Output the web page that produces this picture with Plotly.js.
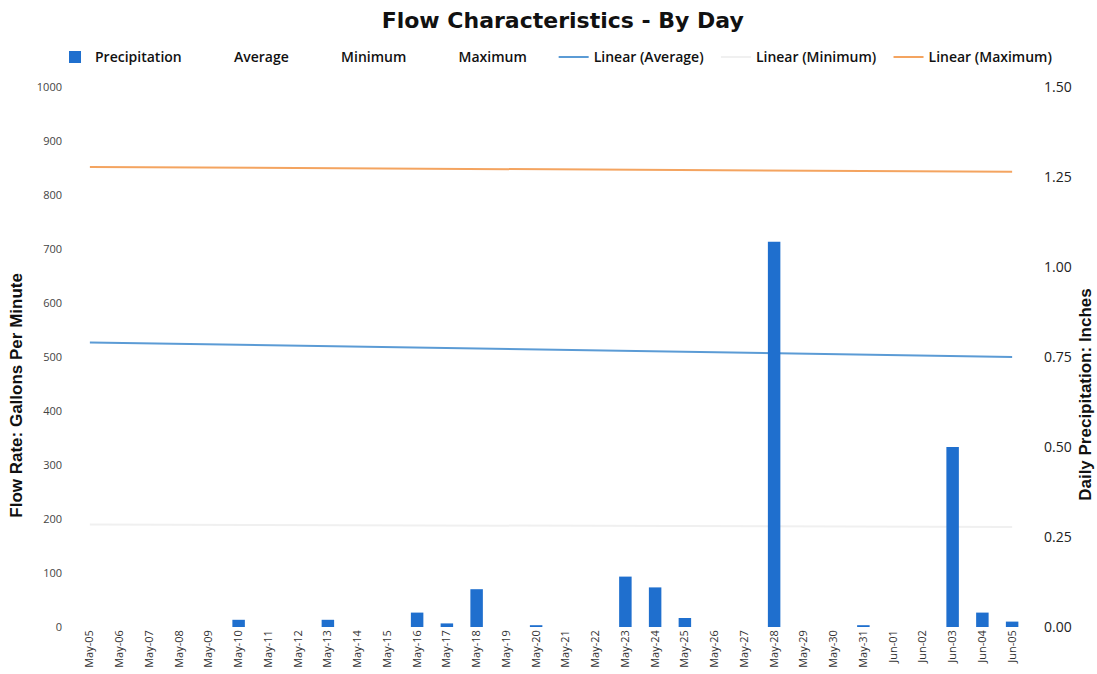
<!DOCTYPE html>
<html>
<head>
<meta charset="utf-8">
<script src="https://cdn.plot.ly/plotly-3.0.1.min.js"></script>
<style>html,body{margin:0;padding:0;background:#fff;}#chart{width:1097px;height:674px;}</style>
</head>
<body>
<div id="chart"></div>
<script>
const days = ["May-05","May-06","May-07","May-08","May-09","May-10","May-11","May-12","May-13","May-14","May-15","May-16","May-17","May-18","May-19","May-20","May-21","May-22","May-23","May-24","May-25","May-26","May-27","May-28","May-29","May-30","May-31","Jun-01","Jun-02","Jun-03","Jun-04","Jun-05"];
const precipitation = [0,0,0,0,0,0.02,0,0,0.02,0,0,0.04,0.01,0.105,0,0.005,0,0,0.14,0.11,0.025,0,0,1.07,0,0,0.005,0,0,0.50,0.04,0.015];
const averageFlow = [null];
const minimumFlow = [null];
const maximumFlow = [null];
const trendEnds = [days[0], days[days.length-1]];
const linearAverage = [527, 500];
const linearMinimum = [190, 185];
const linearMaximum = [852, 843];

const pad = '\u00a0\u00a0';
const traces = [
  {type:'bar', name:'Precipitation'+pad, x:days, y:precipitation, yaxis:'y2',
   marker:{color:'#1f6fce', line:{color:'#1b4f8f', width:0}}},
  {type:'scatter', mode:'lines', name:'Average'+pad, x:[days[0]], y:averageFlow, line:{color:'rgba(255,255,255,0)'}},
  {type:'scatter', mode:'lines', name:'Minimum'+pad, x:[days[0]], y:minimumFlow, line:{color:'rgba(255,255,255,0)'}},
  {type:'scatter', mode:'lines', name:'Maximum'+pad+pad+pad, x:[days[0]], y:maximumFlow, line:{color:'rgba(255,255,255,0)'}},
  {type:'scatter', mode:'lines', name:'Linear (Average)'+pad, x:trendEnds, y:linearAverage, line:{color:'#5b9bd5', width:2}},
  {type:'scatter', mode:'lines', name:'Linear (Minimum)'+pad, x:trendEnds, y:linearMinimum, line:{color:'#f0f0f0', width:2}},
  {type:'scatter', mode:'lines', name:'Linear (Maximum)', x:trendEnds, y:linearMaximum, line:{color:'#f4a460', width:2}}
];

const axisTitleFont = {family:'"Liberation Sans Narrow", "Liberation Sans", Arial, sans-serif', size:17, color:'#111'};
const layout = {
  width:1097, height:674,
  paper_bgcolor:'#fff', plot_bgcolor:'#fff',
  margin:{l:75, r:70, t:87, b:47},
  title:{text:'<b>Flow Characteristics - By Day</b>', x:0.513, xanchor:'center', y:0.97, yanchor:'middle',
         font:{family:'"DejaVu Sans", sans-serif', size:22, color:'#111'}},
  showlegend:true,
  legend:{orientation:'h', x:-0.021, xanchor:'left', y:1.055, yanchor:'middle',
          font:{family:'"Open Sans", sans-serif', size:14, color:'#111', weight:600},
          traceorder:'normal', itemwidth:30},
  bargap:0.58,
  xaxis:{type:'category', tickangle:-90, tickfont:{family:'"Open Sans", sans-serif', size:11, color:'#333'},
         showgrid:false, showline:false, zeroline:false, ticks:'', automargin:false, range:[-0.5, 31.5]},
  yaxis:{range:[0,1000], dtick:100, showgrid:false, zeroline:false, showline:false, ticks:'',
         ticklabelstandoff:12,
         tickfont:{family:'"Open Sans", sans-serif', size:11, color:'#444'}, automargin:false},
  yaxis2:{range:[0,1.5], dtick:0.25, tickformat:'.2f', overlaying:'y', side:'right', showgrid:false,
          zeroline:false, showline:false, ticks:'', automargin:false, ticklabelstandoff:16,
          tickfont:{family:'"Open Sans", sans-serif', size:14, color:'#222'}},
  annotations:[
    {text:'<b>Flow Rate: Gallons Per Minute</b>', xref:'paper', yref:'paper', x:-0.061, xanchor:'center',
     y:0.43, yanchor:'middle', textangle:-90, showarrow:false, font:axisTitleFont},
    {text:'<b>Daily Precipitation: Inches</b>', xref:'paper', yref:'paper', x:1.062, xanchor:'center',
     y:0.43, yanchor:'middle', textangle:-90, showarrow:false, font:axisTitleFont}
  ]
};
Plotly.newPlot('chart', traces, layout, {displayModeBar:false, staticPlot:true});
</script>
</body>
</html>
